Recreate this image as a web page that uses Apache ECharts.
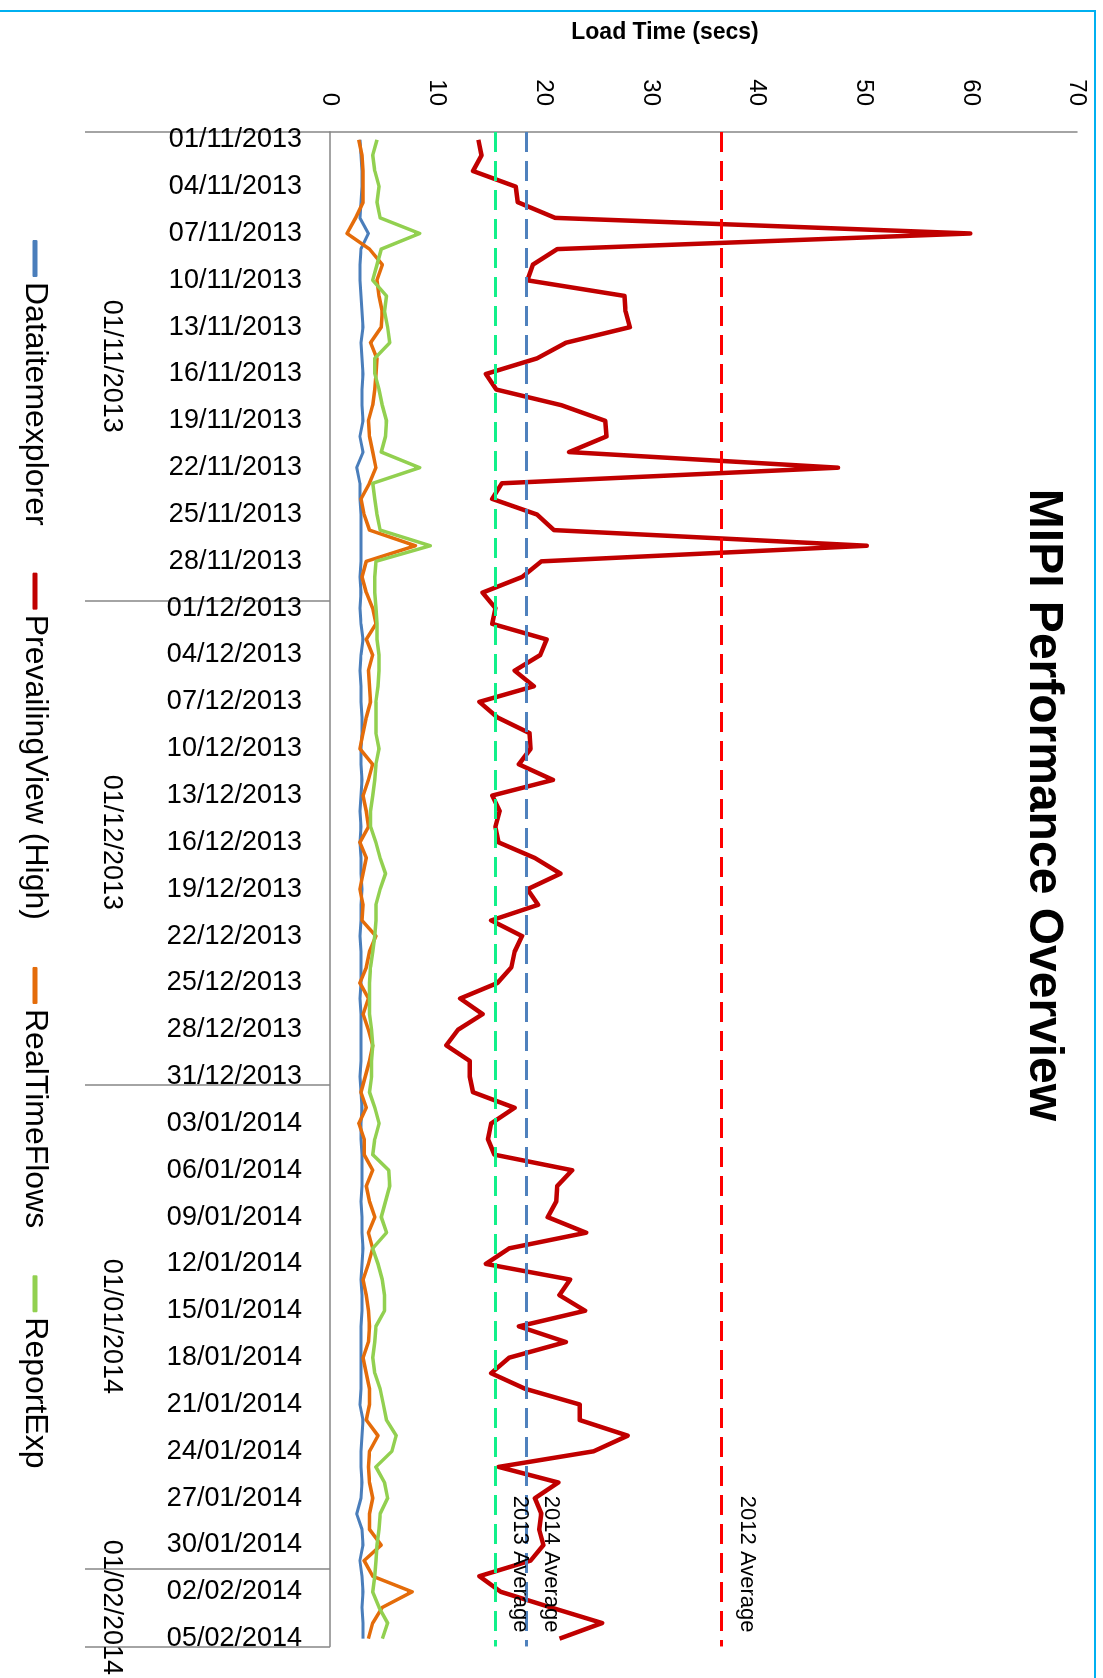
<!DOCTYPE html>
<html>
<head>
<meta charset="utf-8">
<script src="https://cdn.jsdelivr.net/npm/echarts@6/dist/echarts.min.js"></script>
<style>
html,body{margin:0;padding:0;width:1103px;height:1678px;overflow:hidden;background:#ffffff;}
#chart{position:absolute;left:1103px;top:0;width:1678px;height:1103px;transform-origin:0 0;transform:rotate(90deg);}
</style>
</head>
<body>
<div id="chart"></div>
<script>
const dates = [
'01/11/2013','02/11/2013','03/11/2013','04/11/2013','05/11/2013','06/11/2013','07/11/2013','08/11/2013','09/11/2013','10/11/2013',
'11/11/2013','12/11/2013','13/11/2013','14/11/2013','15/11/2013','16/11/2013','17/11/2013','18/11/2013','19/11/2013','20/11/2013',
'21/11/2013','22/11/2013','23/11/2013','24/11/2013','25/11/2013','26/11/2013','27/11/2013','28/11/2013','29/11/2013','30/11/2013',
'01/12/2013','02/12/2013','03/12/2013','04/12/2013','05/12/2013','06/12/2013','07/12/2013','08/12/2013','09/12/2013','10/12/2013',
'11/12/2013','12/12/2013','13/12/2013','14/12/2013','15/12/2013','16/12/2013','17/12/2013','18/12/2013','19/12/2013','20/12/2013',
'21/12/2013','22/12/2013','23/12/2013','24/12/2013','25/12/2013','26/12/2013','27/12/2013','28/12/2013','29/12/2013','30/12/2013',
'31/12/2013',
'01/01/2014','02/01/2014','03/01/2014','04/01/2014','05/01/2014','06/01/2014','07/01/2014','08/01/2014','09/01/2014','10/01/2014',
'11/01/2014','12/01/2014','13/01/2014','14/01/2014','15/01/2014','16/01/2014','17/01/2014','18/01/2014','19/01/2014','20/01/2014',
'21/01/2014','22/01/2014','23/01/2014','24/01/2014','25/01/2014','26/01/2014','27/01/2014','28/01/2014','29/01/2014','30/01/2014',
'31/01/2014',
'01/02/2014','02/02/2014','03/02/2014','04/02/2014','05/02/2014'
];
const monthLabels = ['01/11/2013','01/12/2013','01/01/2014','01/02/2014'];
const monthDays = [30, 31, 31, 5];

const seriesNames = ['Dataitemexplorer','PrevailingView (High)','RealTimeFlows','ReportExp'];
const seriesColors = ['#4A7EBB','#C00000','#E46C0A','#92D050'];

const dataitemexplorer = [
2.8,2.9,3.0,3.0,2.9,2.8,3.6,2.9,2.8,2.8,
2.9,3.0,3.1,2.9,3.0,3.1,3.0,3.0,3.1,2.8,
3.1,2.5,2.8,2.8,2.9,2.9,2.9,2.9,2.8,2.9,
2.8,2.9,3.1,2.9,2.8,2.9,2.9,3.0,3.0,2.9,
2.9,3.0,2.9,2.8,2.9,2.8,2.9,2.9,3.0,2.9,
2.9,2.8,2.9,2.9,2.9,2.8,2.9,2.9,2.9,2.9,
2.8,2.9,3.0,2.9,2.9,3.0,3.0,3.0,2.9,3.0,
3.0,3.1,3.0,2.9,3.0,3.0,2.9,2.9,2.9,2.9,
2.9,2.8,3.1,3.0,2.9,2.9,3.0,2.9,2.5,3.0,
3.1,2.8,3.0,3.1,3.0,3.1,3.1
];
const prevailingViewHigh = [
13.9,14.2,13.4,17.4,17.6,21.1,60.0,21.3,19.0,18.5,
27.6,27.7,28.1,22.1,19.4,14.6,15.6,21.7,25.8,25.9,
22.4,47.6,16.1,15.2,19.4,21.0,50.3,19.8,18.0,14.3,
15.5,15.2,20.3,19.7,17.3,19.1,14.0,15.7,18.7,18.8,
17.7,20.9,15.2,15.9,15.5,15.8,19.2,21.6,18.5,19.5,
15.1,18.0,17.3,17.0,15.7,12.2,14.3,12.0,10.9,13.1,
13.1,13.4,17.3,15.1,14.8,15.4,22.7,21.3,21.2,20.4,
24.0,16.8,14.6,22.5,21.5,23.9,17.7,22.1,16.8,15.1,
18.3,23.4,23.4,27.9,24.7,15.8,21.4,19.2,19.8,19.6,
20.0,18.8,14.0,16.0,20.7,25.5,21.5
];
const realTimeFlows = [
2.7,3.0,3.1,3.1,3.1,2.4,1.6,3.7,4.9,4.4,
4.6,4.9,4.8,3.8,4.4,4.3,4.2,4.0,3.6,3.7,
4.0,4.3,3.7,2.9,3.2,3.7,8.0,3.4,3.0,3.4,
4.0,4.3,3.4,4.0,3.6,3.7,3.8,3.4,3.1,2.8,
4.0,3.6,3.1,3.4,3.6,2.8,3.4,3.1,2.8,3.1,
3.0,4.3,3.7,3.4,2.8,3.6,3.1,3.6,4.0,3.7,
3.3,2.9,3.4,2.7,3.2,3.2,4.0,3.4,3.7,4.2,
3.6,4.0,3.6,3.1,3.4,3.6,3.7,3.6,3.1,3.4,
3.7,3.7,3.4,4.5,3.7,3.6,3.7,4.0,3.7,3.7,
4.8,3.2,4.0,7.7,4.9,4.0,3.6
];
const reportExp = [
4.4,4.0,4.2,4.6,4.4,4.7,8.4,4.8,4.4,4.0,
5.3,5.1,5.4,5.6,4.2,4.2,4.6,4.9,5.3,5.2,
4.8,8.4,4.0,4.2,4.4,4.7,9.4,4.3,4.2,4.2,
4.3,4.4,4.4,4.6,4.6,4.5,4.3,4.3,4.3,4.6,
4.3,4.2,4.0,3.8,3.8,4.3,4.7,5.2,4.7,4.3,
4.3,4.2,4.0,3.8,3.7,3.7,3.7,3.9,4.0,3.9,
3.9,3.7,4.2,4.6,4.2,4.0,5.5,5.6,5.2,4.8,
5.3,4.0,4.5,4.9,5.1,5.1,4.3,4.2,4.0,4.2,
4.7,5.0,5.3,6.2,5.8,4.3,5.1,5.4,4.7,4.6,
4.4,4.3,4.2,4.0,4.6,5.4,4.9
];

const averageNames = ['2013 Average','2014 Average','2012 Average'];
const averageValues = [15.5, 18.4, 36.7];
const averageColors = ['#12F08A','#4F81BD','#FF0000'];

const valueMin = 0, valueMax = 70, valueStep = 10;
const titleText = 'MIPI Performance Overview';
const axisTitle = 'Load Time (secs)';

const FONT = '"Liberation Sans", Arial, sans-serif';

// month grouping positions (in day units)
const monthStarts = [];
let acc = 0;
monthDays.forEach(d => { monthStarts.push(acc); acc += d; });
const monthTickValues = monthStarts.concat([acc]);
const monthLabelValues = monthStarts.map((s, i) => s + monthDays[i] / 2);

// measure title to centre it on the chosen spot
const mctx = document.createElement('canvas').getContext('2d');
mctx.font = 'bold 48px "Liberation Sans"';
const titleW = mctx.measureText(titleText).width;

const chart = echarts.init(document.getElementById('chart'));
const lineData = [dataitemexplorer, prevailingViewHigh, realTimeFlows, reportExp];
const lineWidths = [3, 4.5, 3.5, 3.5];

const series = seriesNames.map((name, i) => ({
  name: name,
  type: 'line',
  xAxisIndex: 0,
  yAxisIndex: 0,
  data: lineData[i],
  symbol: 'none',
  showSymbol: false,
  smooth: false,
  lineStyle: { color: seriesColors[i], width: lineWidths[i], join: 'round' },
  itemStyle: { color: seriesColors[i] },
  z: 2 + i
}));

series[0].markLine = {
  silent: true,
  symbol: 'none',
  animation: false,
  z: 10,
  data: averageValues.map((v, i) => ({
    yAxis: v,
    name: averageNames[i],
    lineStyle: { color: averageColors[i], type: [20, 9], width: 3 },
    label: {
      show: true,
      position: 'insideEndTop',
      formatter: '{b}',
      color: '#000',
      fontSize: 22,
      fontFamily: FONT,
      distance: 14
    }
  }))
};

chart.setOption({
  animation: false,
  backgroundColor: '#ffffff',
  title: {
    text: titleText,
    left: 805 - titleW / 2,
    top: 36,
    padding: 0,
    textStyle: { fontSize: 48, fontWeight: 'bold', fontFamily: FONT, color: '#000' }
  },
  legend: {
    data: seriesNames.map(n => ({ name: n, icon: 'roundRect' })),
    left: 240,
    top: 1052,
    padding: 0,
    itemWidth: 37,
    itemHeight: 5,
    itemGap: 47,
    selectedMode: false,
    textStyle: { fontSize: 32, fontFamily: FONT, color: '#000' }
  },
  grid: { left: 132, right: 27, top: 26, bottom: 330, containLabel: false },
  xAxis: [
    {
      type: 'category',
      data: dates,
      boundaryGap: true,
      position: 'bottom',
      axisLine: { show: true, lineStyle: { color: '#868686', width: 1.5 } },
      axisTick: { show: false },
      splitLine: { show: false },
      axisLabel: {
        interval: 2,
        rotate: 90,
        margin: 28,
        fontSize: 27,
        fontFamily: FONT,
        color: '#000'
      }
    },
    {
      type: 'value',
      min: 0,
      max: acc,
      position: 'bottom',
      axisLine: { show: false },
      splitLine: { show: false },
      axisTick: {
        show: true,
        customValues: monthTickValues,
        length: 245,
        inside: false,
        lineStyle: { color: '#868686', width: 1.5 }
      },
      axisLabel: {
        show: true,
        customValues: monthLabelValues,
        margin: 205,
        fontSize: 27,
        fontFamily: FONT,
        color: '#000',
        formatter: function (v) {
          const idx = monthLabelValues.findIndex(m => Math.abs(m - v) < 1e-6);
          return idx >= 0 ? monthLabels[idx] : '';
        }
      }
    }
  ],
  yAxis: {
    type: 'value',
    min: valueMin,
    max: valueMax,
    interval: valueStep,
    axisLine: { show: true, lineStyle: { color: '#868686', width: 1.5 } },
    axisTick: { show: false },
    splitLine: { show: false },
    axisLabel: { fontSize: 24, margin: 26, fontFamily: FONT, color: '#000' }
  },
  graphic: [
    {
      type: 'rect',
      silent: true,
      z: -10,
      shape: { x: 11, y: 8, width: 1700, height: 1200 },
      style: { fill: 'none', stroke: '#00B0F0', lineWidth: 2 }
    },
    {
      type: 'text',
      x: 33,
      y: 438,
      rotation: Math.PI / 2,
      style: {
        text: axisTitle,
        fontSize: 23,
        fontWeight: 'bold',
        fontFamily: FONT,
        fill: '#000',
        align: 'center',
        verticalAlign: 'middle'
      }
    }
  ],
  series: series
});
</script>
</body>
</html>
